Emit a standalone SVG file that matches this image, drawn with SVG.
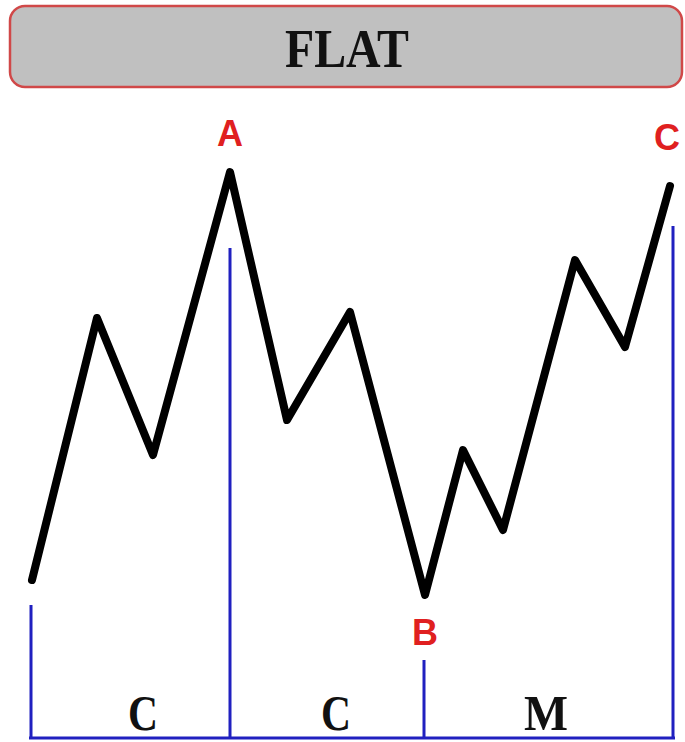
<svg xmlns="http://www.w3.org/2000/svg" width="685" height="742" viewBox="0 0 685 742">
<style>
.title{font-family:"Liberation Serif",serif;font-weight:bold;font-size:54px;fill:#111;text-anchor:middle}
.pt{font-family:"Liberation Sans",Arial,sans-serif;font-weight:bold;font-size:36px;fill:#e02020;text-anchor:middle}
.seg{font-family:"Liberation Serif",serif;font-weight:bold;font-size:50px;fill:#111;text-anchor:middle}
.blue{stroke:#2020c0;stroke-width:3;fill:none}
</style>
<rect width="685" height="742" fill="#fff"/>
<g id="title">
<rect x="10" y="6" width="672" height="81" rx="15" fill="#c0c0c0" stroke="#d04848" stroke-width="2.5"/>
<text class="title" x="347" y="67" textLength="124" lengthAdjust="spacingAndGlyphs">FLAT</text>
</g>
<g id="connectors">
<polyline points="32,580 97,318 153,455 230,172 287,420 350,312 425,595 463,450 503,530 575,260 625,347 670,186" fill="none" stroke="#000" stroke-width="8" stroke-linejoin="round" stroke-linecap="round"/>
<path class="blue" d="M31,605 V738 M230,248 V738 M424,660 V738 M673,226 V738 M29,738 H675"/>
</g>
<g id="labelA"><text class="pt" x="230" y="146">A</text></g>
<g id="labelB"><text class="pt" x="425" y="645">B</text></g>
<g id="labelC"><text class="pt" x="667" y="150">C</text></g>
<g id="seg1"><text class="seg" x="143" y="730" textLength="30" lengthAdjust="spacingAndGlyphs">C</text></g>
<g id="seg2"><text class="seg" x="336" y="730" textLength="30" lengthAdjust="spacingAndGlyphs">C</text></g>
<g id="seg3"><text class="seg" x="546" y="730" textLength="44" lengthAdjust="spacingAndGlyphs">M</text></g>
</svg>
